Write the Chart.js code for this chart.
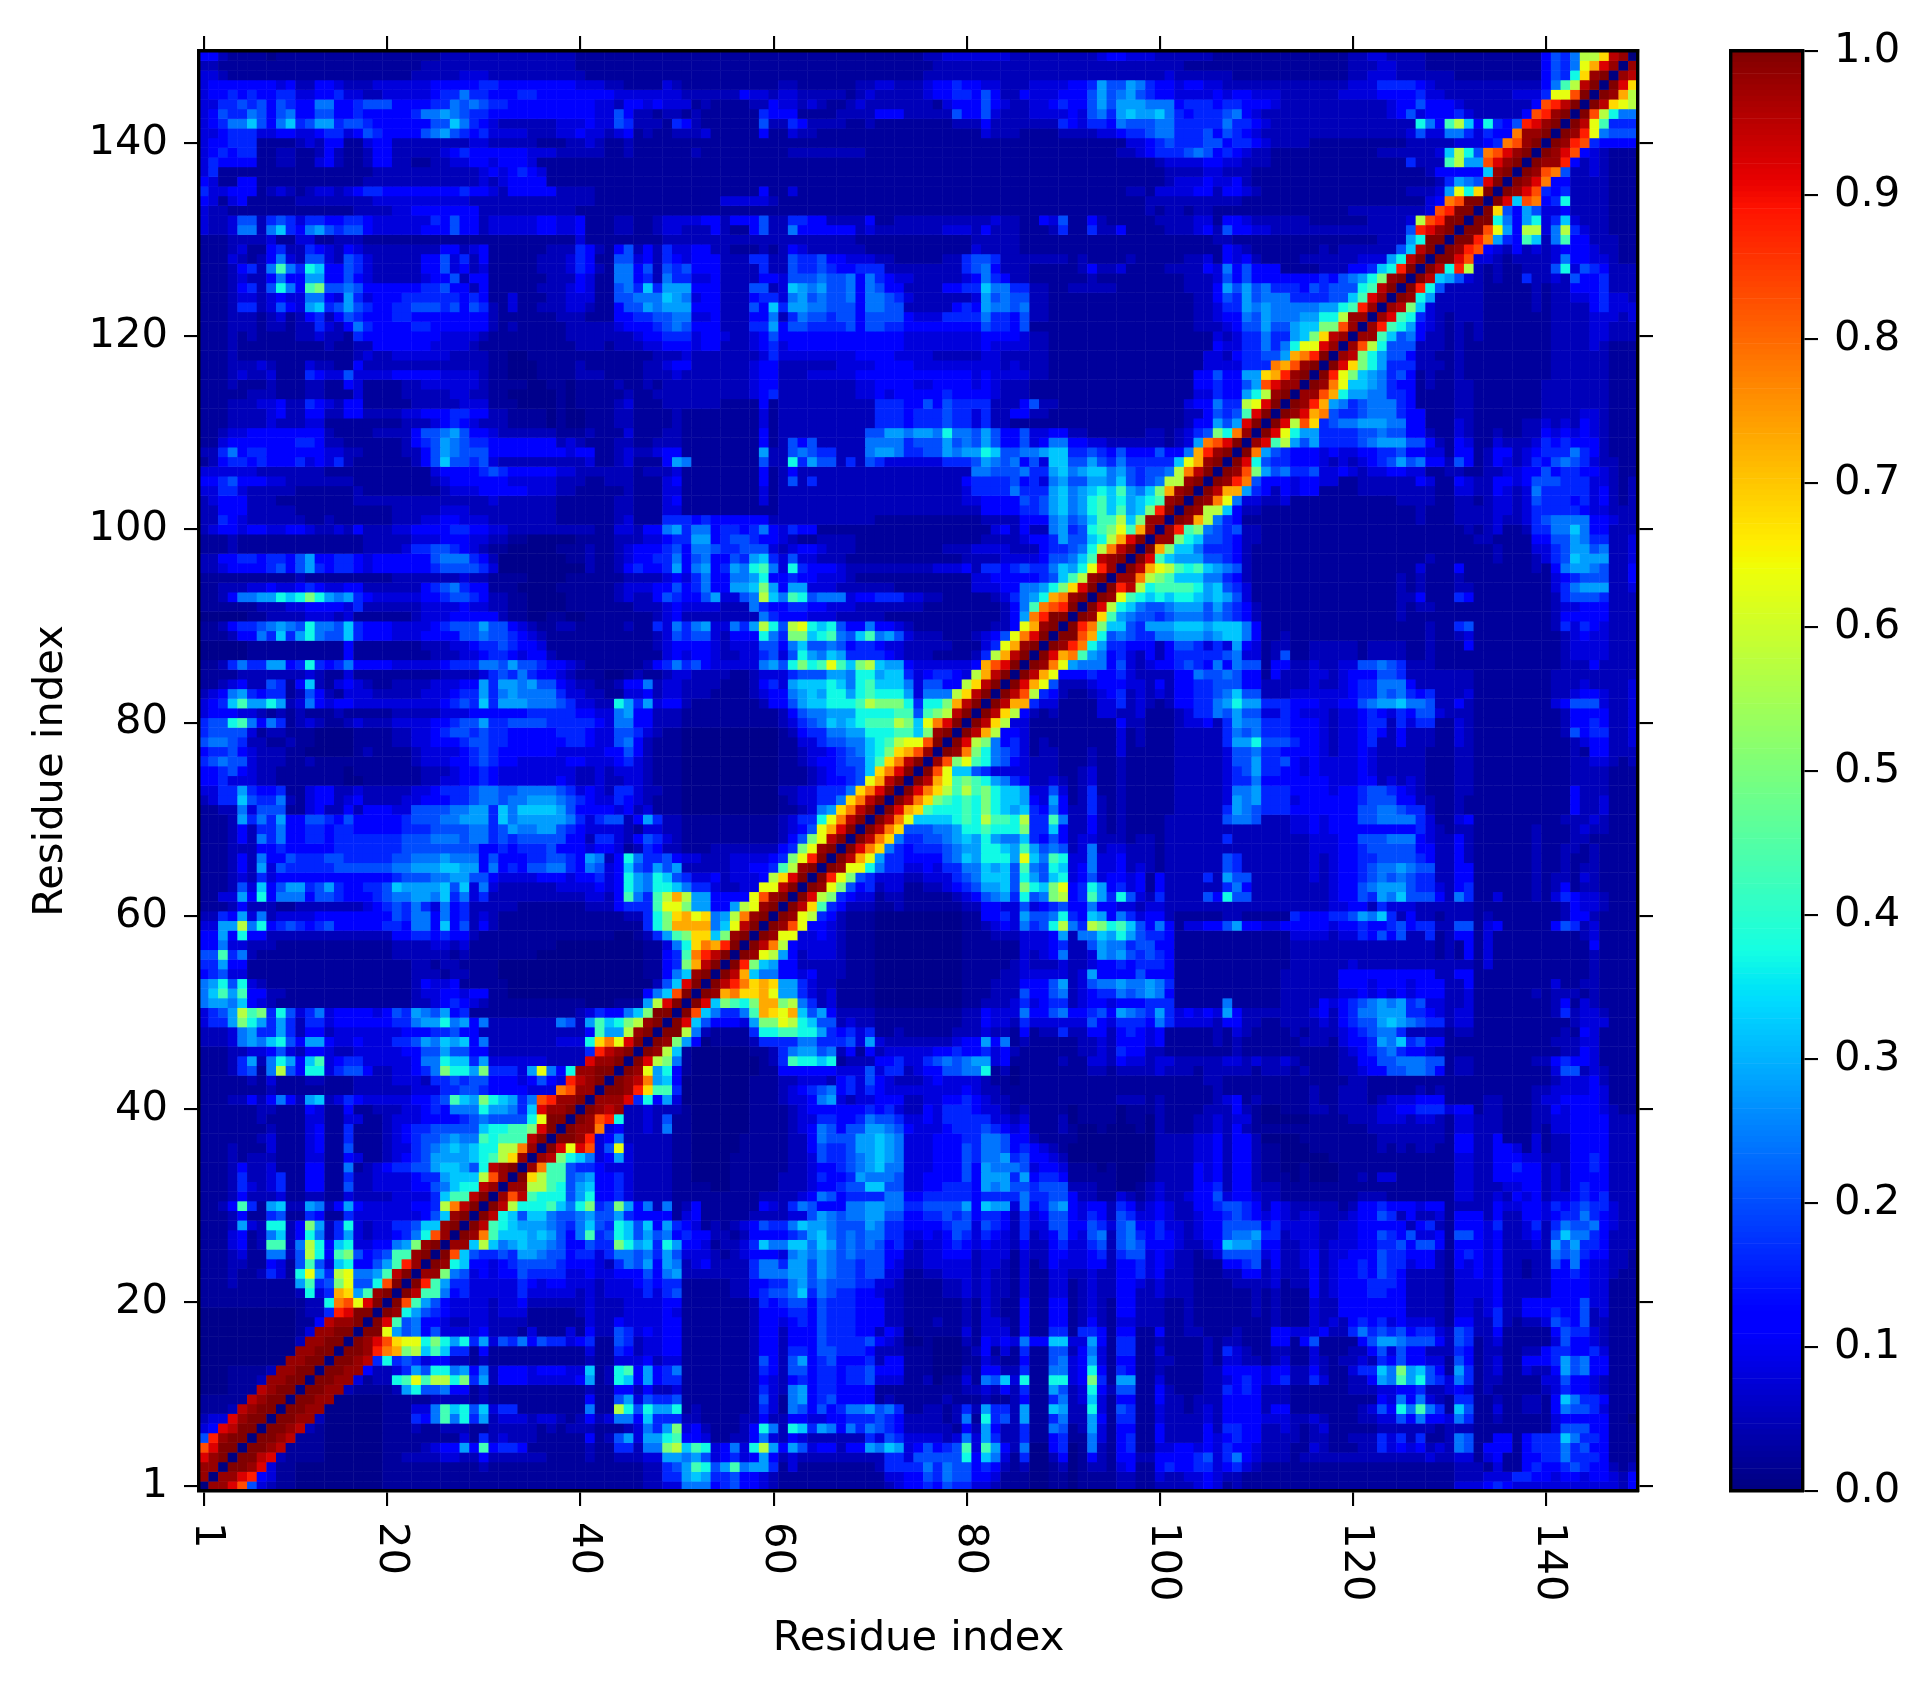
<!DOCTYPE html>
<html>
<head>
<meta charset="UTF-8" />
<title>Residue contact map</title>
<script src="https://cdn.jsdelivr.net/npm/chart.js"></script>
<style>
    body { margin: 0; background: #fff; overflow: hidden; }
    canvas { position: absolute; left: 0; top: 0; }
</style>
</head>
<body>
<canvas id="map" width="1927" height="1689"></canvas>
<canvas id="bar" width="1927" height="1689"></canvas>
<script>
const residueCount = 149;
const axisTicks = [1, 20, 40, 60, 80, 100, 120, 140];
const barTicks = [0, 0.1, 0.2, 0.3, 0.4, 0.5, 0.6, 0.7, 0.8, 0.9, 1];
const axisLabel = 'Residue index';

// value of each code character 0-9 a-n
const levels = [.01, .025, .05, .08, .12, .16, .2, .24, .28, .32, .37, .43, .5, .57, .63, .68, .73, .78, .83, .88, .92, .95, .98, 1];

// symmetric matrix, one line per residue from 149 down to 2, columns 1 .. residue-1 (diagonal is 0)
const rows = [
"4421111011 1111111111 1111122222 2222222221 1111111111 1111111111 1111111111 1111122333 3333222222 2223443332 2222211111 1111111112 2332222111 1111111114 657ddflm",
"2211111111 1111111111 1112222222 2222222221 1111111111 1111111111 1111111111 1111112222 2222222222 2222222222 2211111111 1111111112 2233222111 1111111114 657egkm",
"3321111111 1111111111 1122222333 2222222222 1111111111 1111111111 1111111111 1111122222 2222222222 2222222222 3222222111 1111111112 2333222222 1111111114 65afmn",
"3444444434 2244322233 3333444445 5444444443 3322111132 1111111111 2211111122 3322234454 4332223333 4458668754 4344332222 2222222223 3355554322 2222222224 7bdln",
"3445454455 3344533223 3333455755 4445544444 4443333333 2222224332 3322222123 2222234455 4642243334 4468678654 4333343443 3322222233 3344445332 2222223335 eein",
"3355656465 4477445666 4444557676 5544444444 4332443433 3121111224 3323211232 2222221344 4643223345 4468688877 7455545544 4322222222 2223446444 322222224i jln",
"3465576467 4466445444 4457787655 4444444444 4336422122 1211111154 4411112222 4442222264 4632223333 4367589889 7545556743 2222222222 2223463444 53222224ij mn",
"3457796479 5688566544 4444669754 3222222333 4336522215 4211111162 2542222112 1111111122 2422222225 4355476667 7555557554 3222222222 222222a74b d94a546jkm n",
"3345553344 3345534654 4446786545 3333222334 3323412112 2231111141 1322111111 1111111111 1322211112 2223345567 7555646543 2222222222 2222236337 753544hmmn",
"3445551111 2324411344 2222222233 2222211122 3211211111 1111111111 1111111111 1111111111 1111111111 1111113345 6555664554 3222211111 1111122222 33345himn",
"3454551122 1124211244 2222234544 4444333222 2211211111 1211111111 1222222221 1111111111 1111111111 1111122345 5567645432 2111111111 1122222239 da6hikmn",
"3544441122 1134211244 2211223344 3444311111 1111111111 1111111111 1111111111 1111111111 1111111111 1111111112 3333443322 2111111111 111115222b d88ikmn",
"3511111111 1111111122 2222222223 4345431111 1111111111 1111111111 1111111111 1111111111 1111111111 1111111111 2222332221 1111111111 1111111244 4449mn",
"4311441111 1111111222 2222222223 2344441111 1111111111 1111111111 1111111111 1111111111 1111111111 1111111111 2333433421 1111111111 1111111125 876kn",
"5334441232 1233234554 4444444544 3244444222 2111111111 1111111141 1311111111 1111111111 1111111111 1111112213 3334424432 1111111111 1111122238 eafn",
"4313411111 2222222233 3333333322 2222222222 2111111111 1111333332 1111111111 1111111111 1111111111 1111111122 2222222211 1111111111 111111134h inn",
"3221111111 1111112222 3344444442 2222222221 1111111111 1111111111 1111111111 1111111111 1111111111 1111111121 2212211111 1111111112 22222223ij nn",
"3223662565 3554455433 3333546442 3333344334 1112211233 3344244462 2554422224 1122222222 2232211436 1142111112 2223314432 2222211111 122223dijn n",
"3223772795 4786566433 3334446442 3333344334 1112211233 2224211462 2744444423 2222222333 2422211125 1152241111 2223426443 3222222222 222226jkmn",
"1112222311 3311222111 1111111111 1111111113 1111111122 2222222222 2222222211 1111111111 2222211111 1111111111 1111122111 1111111111 112228ann",
"1112311452 2543243222 2222244234 1111112225 4214624253 3442211121 2432222221 1111111111 3222211111 1111111111 1111114321 1111112122 222269ln",
"1113212473 2663265322 2224463524 1111122235 4116634254 3444222552 2655644333 2211111225 6652222222 1211112111 1122314342 1111222222 3338aln",
"11124527b7 5a94465322 2224463423 1111122235 4217746265 6444222252 2655654455 5222222225 6742221111 1242231111 2222437464 4411112224 459ajn",
"1112322474 4884464322 2223446244 1111112224 3117745275 5334222244 3666766747 5433222223 4754221111 1121111111 1122236464 4444445467 8acmn",
"11124526a7 4bc6676444 4445564424 1111122234 3116759588 8444222662 3987866747 6442222445 5977552211 2222211111 1122248686 7555465666 abln",
"1112332343 3774385344 4555555454 1131112233 3116677798 7344222455 3786766747 7653222222 3867662211 1111111111 1112246586 7775555669 bkm",
"1112552364 3895686544 5566656465 2131122233 2114668788 8444222649 5887766647 7662222245 4877672211 1111111111 1112235587 87777788ab jm",
"1112221231 2452465444 5544444444 2111111222 1114455667 7334222447 2576656646 6664333555 5755462211 1111111111 1112234476 877788aadm m",
"1112221221 2253247544 4455444444 2121111122 2223444567 6444222558 4665555646 6554444444 4655461111 1111111111 1112223466 866899ccim",
"1112121111 2232215444 4444433332 1111111122 2222234455 5344322346 4444444444 4443333333 3444432211 1111111111 1111132355 75589cflm",
"1112111111 1112112244 4444333321 1111111112 2212223344 4344222345 3444444444 4443333333 3433332211 1111111111 1111143355 757aeekm",
"1112111111 1111112322 3333332222 1100111111 1111111222 3222222235 3333333344 4433332222 2332222211 1111111111 1111332455 668ghjn",
"1112223211 1322114222 2222222222 1100011112 1111112234 4222222344 2222223333 4444333333 3332322211 1111111111 1111333355 5hgimn",
"1112322311 1543363333 4444433332 1100011112 2211112223 2222222344 2223333344 4444444444 3433332211 1111111111 1114464488 fgjmn",
"1112111211 1221143111 1223333332 1111001101 1112112122 2222222344 2222222233 4444334444 3432221111 1111111111 1114454468 ikmm",
"1111122211 1221113111 1222223322 1100000101 1111211222 2222222345 2222222233 4344444544 4432221111 1111111111 111335448a dmn",
"1112223342 2543244111 1122222333 1110000101 1112311122 2222111141 2222222222 5554464655 5522246221 1111111111 11344755de kn",
"1112222342 2442244222 2334445544 2211110100 1112211112 1111111131 2222222222 5554555655 3522442211 1111111111 11224656bk n",
"1112222322 2331111111 1222345432 2211110100 1112211112 1111111131 2222222222 5554555655 3522111111 1111111111 11244868kn",
"1123344444 4442111122 2246678644 3222222111 2111311122 1111111141 2222222226 6887887a77 6864463344 2211111122 12356cahm",
"1134444444 5542211111 1245687655 4444444232 1112211222 1111111141 2646222227 7775666867 6864463477 4433222222 1238hikn",
"2257455444 4443322111 1224687666 4444444434 4112322344 1111111182 2676552227 8875566878 8a96677899 5565464446 447gjmn",
"1245545444 5343521111 1124696656 3222222222 3112311148 7111111162 2a58662526 5333333555 6876746399 6686575555 59egmn",
"3333332222 2221111111 1111344445 6544444332 2222212223 1111111141 2422222222 2222222222 7766675589 7899786566 7dhln",
"4456444332 2222221111 1111234444 4433333222 1122211134 1111111141 2625222222 2222222224 5555645378 6688796567 ddmn",
"3355322222 1111112111 1111123334 4444333221 1111211133 1111111131 2222222222 2222222223 5555755589 789a9b879c gmn",
"2344422211 1111112222 2222222222 3222222111 1112211134 1111111131 2222222222 2222222223 3444465689 78ab9a89ab mn",
"2244422222 1111111111 2222233322 2222222111 1112211133 1111111111 2222222222 2222222222 2444455689 78ab9b89cj n",
"2254322222 2112111111 2223344333 2222222111 1112311155 5454444442 2222222222 1111111111 1222244478 679bbd9cmm",
"2344344334 4322324222 3344445544 3322222222 2113324478 5774554574 3544111111 1111111111 1134242278 56abcebgm",
"1112111111 1111111222 2233344433 2211000001 1112223345 5884566544 3211222211 1111111111 1222234458 669adgkn",
"1112111111 1111111222 2355665432 1100000111 2112344456 4776556663 2344322211 1111111222 3333222455 67adhln",
"2244554554 6844554344 4444677754 2000000011 2112344557 4674465895 3633222111 1111111112 2223333466 79blmn",
"2234444564 6854554344 4444566665 3000000000 2112454458 4784587ab7 3a54443222 2222223334 2554565579 8aejm",
"1111111111 2111111111 2222222322 1111000011 1111222234 35744778a4 4544333211 1111111111 3344444569 bdmn",
"1122233433 4543344222 2224567544 1110000111 1112333446 45744889c8 4883332222 2211111111 33344778ac fkn",
"11247788a9 aca8785433 3334456654 2211000011 1112322465 44683367d9 7ba6777344 5553322111 1123578agh mn",
"1111112223 3444435222 2223333433 2211000011 1111122234 3333222754 4554433322 2222211111 111247bhij n",
"0000011222 2333231111 1123334444 4211001100 1111111234 2222222275 4443332222 2111111111 111248hjnn",
"1124556787 6a77695444 3333456668 6643211221 1111211537 57833758da 6dea9a6447 4432111111 11224egmn",
"1112447595 8a76695444 3334444667 6654321111 1111111236 56632444a7 5cc9ab769b 7863222111 2346ehkn",
"0000011111 1111141111 1112223345 5654431111 1111111234 4443233366 4796676455 4332222211 135egmn",
"0000011111 1111141111 1111222334 5543442111 1111111134 3443223356 36a8798555 5432221111 25dgln",
"1125755884 5a54574444 3333345557 7686654432 1111112457 5643333378 6acabeb9cd 9884333333 4gikn",
"1111222222 2321131111 1111122223 5657544321 1100121123 3222211233 35666887aa 8995345543 dgln",
"1123422651 4921343211 2222333448 5887866432 2112447233 2222111245 38999a97ab 999736644d fln",
"2347854551 2642133322 2223334558 5787777533 2211334233 2221111234 47898aa8ab aaa83777df ln",
"3459b88a82 3743443333 3333345659 5888777653 322a858344 2111111124 46899aaabd ccca5aacgl n",
"3444332121 2111211111 2222233344 4444555554 4337844222 1111111111 24677888aa aabb6bcdln",
"566ab74751 2321123222 3333445668 5566665555 5437744222 1111111111 23567989ab bbdc9ehkn",
"5666631221 1100001111 2233456656 5544444555 4336653211 0000000000 124557788a aabb9cmn",
"6776522112 1100001111 2233444566 5544444455 4336742111 0000000000 1133566779 abdeein",
"4556432221 1000001211 1123333456 5444444333 3344642111 0000000000 1123345679 acfgim",
"5676632221 1211111111 1123334456 5443333344 3334532111 0000000000 1123445669 bfhln",
"4456432211 1111101111 1112223445 4333333332 2323332111 0000000000 1112345569 fhkn",
"4453332211 1111100111 1112233445 4333333432 2322332111 0000000000 111234456e gln",
"3355854451 1344223222 2233455567 7667777653 4325532211 0000000000 22335557fh kn",
"2355965572 1344234222 2334445567 7677888765 4335432111 0000000000 1233557fhl n",
"1122736661 1342242444 3366667788 5979999864 4443423111 0000000000 112378fhln",
"1112857584 4665464444 4566677888 5978888875 3566248522 1111111111 2355aehln",
"1112425574 4554554444 4555666677 5687788654 3333213322 1111111111 2346egkn",
"1112427574 4554555555 5666777677 5656666644 2553246532 1111111111 246celn",
"1112224454 4444555555 5666666664 4545556444 3443125422 1112222222 45cemn",
"1112427446 5556655555 6677787774 6444556654 8724a75564 3322233334 5cejn",
"1112428365 5555666666 7788899884 7454667754 7634965868 2222233445 bdmn",
"1112325344 4444444444 5666778866 4333344434 4534a87a96 533423334d fkn",
"1112639468 8568544556 9888896937 3222222333 3434a87aa9 75532233ee ln",
"113384a477 7466544456 7788795735 2222222222 3324b75bdg d884444eim n",
"1112422211 2222222345 6575374522 2221111111 2224555bee c88448demn",
"2254837233 3344444444 6577474523 2111111111 1111225acf gef78dhmn",
"3388d7a456 5456444445 5477494624 2111111111 1111115acg ggg79eln",
"4484a44222 2222222222 4455454421 1111111111 111001258b cff9cmn",
"4473322211 1111111111 2222332311 1111111000 0000001137 afhgjn",
"66b5721111 1111111111 2222221211 1111100000 0000001145 bhjln",
"5584411111 1111111111 1122122111 1000000000 0000001145 cgln",
"4563311111 1111111111 1122212211 1000000000 0000001147 9mn",
"78a6a32111 1111111111 1124334111 1100000000 0000000269 kn",
"79b8b44221 1111111111 1123344344 1100000000 000000479i n",
"7887943211 1111111111 1122345432 1111111111 0001118dkn",
"3568dbc5a6 3573444434 6587684511 1111111112 354479cnn",
"3558ca8585 2553444444 55788a7847 2222222762 8b9acdmn",
"2223785585 2442333333 3444556442 2222222222 4b88dmn",
"22237879a6 4884334333 5568798947 2222222333 afhekn",
"1112233463 2443223333 3446686644 2222222222 5jlmn",
"11125827a8 49b3455333 33477a9958 3333332222 kmmn",
"11125617d6 4aa3566422 33457caa8c 55538e74am mnn",
"1111121311 1221112222 3332556566 44434643jl mn",
"1111111211 1111112222 2233355665 4444333him m",
"1112242474 2892354333 334456b98c a9857ijmmn",
"1111112211 1431141122 233454777a 88759kmmn",
"1111112111 1331133112 3334444567 6666aenn",
"1111111211 1341151112 3455666669 aabbckn",
"1111112311 1341151112 345667877b abbbln",
"1112111311 1341161112 335678989a addhm",
"1112122211 1331143112 345688889a bdfm",
"1112422311 1441171234 556689986a lmn",
"1112522351 1441152233 334558999d im",
"1112532351 1441162233 3344679aal m",
"1112422231 1221132222 333359bbln",
"1124b51892 2872484333 33445dhln",
"1112411561 1541153333 333469mn",
"1112832aa2 4c825a3233 55699mn",
"1113412792 4a72583233 457aim",
"1113412bb2 7da49a3344 78cmn",
"1112311772 6da4bc6456 bbmn",
"1112211431 6b639a4468 bjm",
"1112112531 ae85de778b ln",
"1112111111 8b56ce66ai n",
"1111111111 2a35gf8bmn",
"1111111111 122ahiekn",
"0000000000 1225jknn",
"0000000000 114lmmn",
"0000000000 13mmnn",
"0000000000 2mmnn",
"0000000000 mmnn",
"000000000m mnn",
"00011112mm nn",
"0001112mmn n",
"000111lmnn",
"11111lmnn",
"1112lmnn",
"233kmnn",
"34klnn",
"6jmnn",
"iknn",
"kmn",
"mm",
"m"
];

// jet colour map anchors
const jetR = [[0, 0], [.35, 0], [.66, 1], [.89, 1], [1, .5]];
const jetG = [[0, 0], [.125, 0], [.375, 1], [.64, 1], [.91, 0], [1, 0]];
const jetB = [[0, .5], [.11, 1], [.34, 1], [.65, 0], [1, 0]];

function channel(stops, v) {
    for (let i = 1; i < stops.length; i++) {
        if (v <= stops[i][0]) {
            const [a, b] = [stops[i - 1], stops[i]];
            return a[1] + (b[1] - a[1]) * (v - a[0]) / (b[0] - a[0]);
        }
    }
    return stops[stops.length - 1][1];
}

function jet(v) {
    const c = [jetR, jetG, jetB].map(s => Math.round(channel(s, v) * 255));
    return `rgb(${c[0]},${c[1]},${c[2]})`;
}

function cell(x, y) {
    if (x === y) return 0;
    const r = Math.max(x, y), c = Math.min(x, y);
    const line = rows[residueCount - r].replace(/ /g, '').padStart(r - 1, '1').slice(-(r - 1));
    return levels[parseInt(line[c - 1], 36)];
}

const points = [], colors = [];
for (let y = 1; y <= residueCount; y++) {
    for (let x = 1; x <= residueCount; x++) {
        points.push({ x, y });
        colors.push(jet(cell(x, y)));
    }
}

Chart.defaults.font.family = '"DejaVu Sans"';
Chart.defaults.font.size = 41.67;
Chart.defaults.color = '#000';

const frame = { color: '#000', width: 3.4, z: 1 };
const marks = { color: '#000', lineWidth: 2.1, tickLength: 15, drawOnChartArea: false };
const fixed = (prop, v) => s => { s[prop] = v; };

function residueAxis(position, size, showLabels, title) {
    const horizontal = position === 'top' || position === 'bottom';
    return {
        type: 'linear', position, min: 0.5, max: residueCount + 0.5,
        border: frame, grid: marks,
        ticks: { display: showLabels, autoSkip: false, padding: 16, callback: v => String(v) },
        title: title || { display: false },
        afterBuildTicks: s => { s.ticks = axisTicks.map(value => ({ value })); },
        afterFit: fixed(horizontal ? 'height' : 'width', size)
    };
}

// x tick labels read top to bottom, which the library's rotation option can't anchor
const turnedLabels = {
    id: 'turnedLabels',
    afterDraw(chart) {
        const { ctx, chartArea, scales } = chart;
        ctx.save();
        ctx.fillStyle = '#000';
        ctx.font = '41.67px "DejaVu Sans"';
        ctx.textAlign = 'left';
        ctx.textBaseline = 'middle';
        axisTicks.forEach(v => {
            ctx.save();
            ctx.translate(scales.x.getPixelForValue(v) + 3, chartArea.bottom + 31);
            ctx.rotate(Math.PI / 2);
            ctx.fillText(String(v), 0, 0);
            ctx.restore();
        });
        ctx.restore();
    }
};

new Chart(document.getElementById('map'), {
    type: 'scatter',
    data: {
        datasets: [{
            data: points,
            pointStyle: 'rect',
            pointRadius: (1439 / residueCount + 0.5) / Math.SQRT2,
            pointBackgroundColor: colors,
            pointBorderWidth: 0
        }]
    },
    plugins: [turnedLabels],
    options: {
        responsive: false,
        devicePixelRatio: 1,
        animation: false,
        events: [],
        parsing: false,
        layout: { padding: 0 },
        plugins: { legend: { display: false }, tooltip: { enabled: false } },
        scales: {
            x: residueAxis('bottom', 198, false, { display: true, text: axisLabel, padding: { top: 0, bottom: 24.5 } }),
            x2: residueAxis('top', 51, false),
            y: residueAxis('left', 199, true, { display: true, text: axisLabel, padding: { top: 26.5, bottom: 0 } }),
            y2: residueAxis('right', 289, false)
        }
    }
});

// colour bar: 256 stacked slices
const sliceCount = 256;
const slices = [];
for (let i = 0; i < sliceCount; i++) {
    slices.push({ data: [1 / sliceCount], backgroundColor: jet((i + 0.5) / sliceCount), borderWidth: 0, barPercentage: 1, categoryPercentage: 1 });
}

new Chart(document.getElementById('bar'), {
    type: 'bar',
    data: { labels: [''], datasets: slices },
    options: {
        responsive: false,
        devicePixelRatio: 1,
        animation: false,
        events: [],
        layout: { padding: { left: 1731, top: 51, bottom: 198, right: 0 } },
        plugins: { legend: { display: false }, tooltip: { enabled: false } },
        scales: {
            x: { stacked: true, position: 'bottom', border: frame, grid: { display: false }, ticks: { display: false }, afterFit: fixed('height', 0) },
            x2: { type: 'linear', position: 'top', border: frame, grid: { display: false }, ticks: { display: false }, afterFit: fixed('height', 0) },
            y: {
                stacked: true, position: 'right', min: 0, max: 1,
                border: frame, grid: marks,
                ticks: { autoSkip: false, padding: 16, callback: v => v.toFixed(1) },
                afterBuildTicks: s => { s.ticks = barTicks.map(value => ({ value })); },
                afterFit: fixed('width', 124)
            },
            y2: { type: 'linear', position: 'left', min: 0, max: 1, border: frame, grid: { display: false }, ticks: { display: false }, afterFit: fixed('width', 0) }
        }
    }
});
</script>
</body>
</html>
